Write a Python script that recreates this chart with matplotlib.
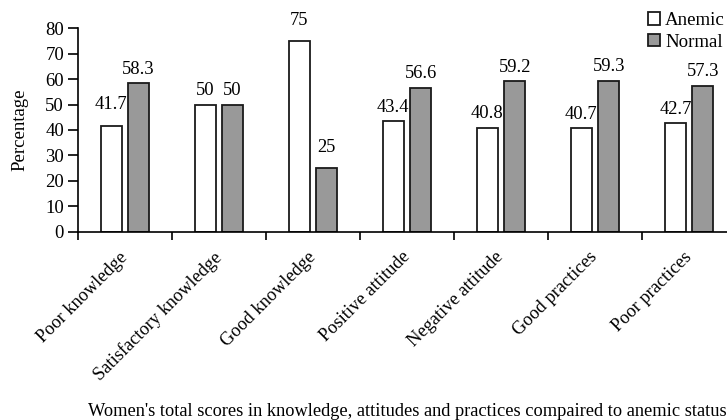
import numpy as np
import matplotlib
matplotlib.use('Agg')
import matplotlib.pyplot as plt
from matplotlib.ticker import FixedLocator

plt.rcParams['font.family'] = ['Liberation Serif', 'DejaVu Serif']

# data
categories = ['Poor knowledge', 'Satisfactory knowledge', 'Good knowledge',
              'Positive attitude', 'Negative attitude', 'Good practices', 'Poor practices']
anemic = [41.7, 50, 75, 43.4, 40.8, 40.7, 42.7]
normal = [58.3, 50, 25, 56.6, 59.2, 59.3, 57.3]
anemic_labels = ['41.7', '50', '75', '43.4', '40.8', '40.7', '42.7']
normal_labels = ['58.3', '50', '25', '56.6', '59.2', '59.3', '57.3']

fig = plt.figure(figsize=(7.27, 4.2), dpi=100)
ax = fig.add_axes([78 / 727, 1 - 231.7 / 420, 658 / 727, 203.4 / 420])

x = np.arange(len(categories))
w = 0.225
off = 0.145
b1 = ax.bar(x - off, anemic, w, color='white', edgecolor='#1a1a1a', linewidth=1.3, label='Anemic')
b2 = ax.bar(x + off, normal, w, color='#999999', edgecolor='#1a1a1a', linewidth=1.3, label='Normal')

# value labels
for rects, labs, extra in [(b1, anemic_labels, {0: 5, 2: 5}), (b2, normal_labels, {2: 5})]:
    for i, (r, t) in enumerate(zip(rects, labs)):
        ax.annotate(t, (r.get_x() + r.get_width() / 2, r.get_height()),
                    xytext=(0, 4 + extra.get(i, 0)), textcoords='offset points',
                    ha='center', va='bottom', fontsize=13.3, annotation_clip=False)

ax.set_xlim(-0.5, len(categories) - 0.5)
ax.set_ylim(0, 80)
ax.set_yticks(range(0, 81, 10))
ax.tick_params(axis='y', labelsize=13.5, length=7, width=1.2, pad=3, direction='out')

ax.set_xticks(x)
ax.set_xticklabels(categories, rotation=45, ha='right', va='center',
                   rotation_mode='anchor', fontsize=13.2)
ax.tick_params(axis='x', which='major', length=0, pad=16.5)
ax.xaxis.set_minor_locator(FixedLocator(np.arange(-0.5, len(categories), 1)))
ax.tick_params(axis='x', which='minor', length=6, width=1.2, direction='out')

for s in ['top', 'right']:
    ax.spines[s].set_visible(False)
for s in ['left', 'bottom']:
    ax.spines[s].set_linewidth(1.2)

ax.set_ylabel('Percentage', fontsize=13.5, labelpad=12)

# legend sits at the top right corner, kept just inside the figure
fig.legend(loc='upper right', bbox_to_anchor=(725 / 727, 1 - 12 / 420), frameon=False,
           fontsize=13.6, handlelength=0.64, handleheight=0.64, handletextpad=0.26,
           labelspacing=0.25, borderpad=0, borderaxespad=0)

fig.text(407 / 727, 1 - 411 / 420,
         "Women's total scores in knowledge, attitudes and practices compaired to anemic status",
         ha='center', va='center', fontsize=13.2)

fig.savefig('out.png', dpi=100)
